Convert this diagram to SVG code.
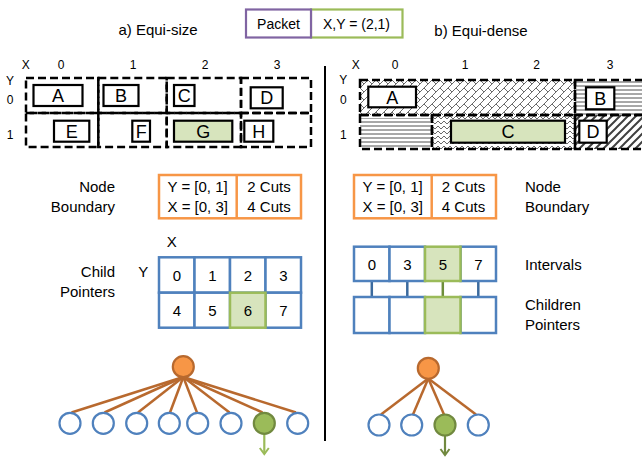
<svg xmlns="http://www.w3.org/2000/svg" width="642" height="457" viewBox="0 0 642 457">
<style>
text{font-family:"Liberation Sans",Arial,sans-serif;fill:#000}
.t15{font-size:15px}
.t14{font-size:14px}
.lab{font-size:12px}
.big{font-size:18px;text-anchor:middle}
.mid{text-anchor:middle}
.end{text-anchor:end}
.dash{fill:none;stroke:#000;stroke-width:2.5;stroke-dasharray:8 4}
.box{fill:#fff;stroke:#000;stroke-width:2.2}
.gbox{fill:#D7E4BD;stroke:#000;stroke-width:2.2}
.ob{fill:#fff;stroke:#F79646;stroke-width:2.5}
.bb{fill:#fff;stroke:#4F81BD;stroke-width:2.5}
.gb{fill:#D7E4BD;stroke:#9BBB59;stroke-width:2.5}
.edge{stroke:#B8692E;stroke-width:2.5;fill:none}
.leaf{fill:#fff;stroke:#4F81BD;stroke-width:2.2}
.root{fill:#F79646;stroke:#B8692E;stroke-width:2.2}
.gleaf{fill:#9BBB59;stroke:#71893F;stroke-width:2.2}
.arr{stroke:#9BBB59;stroke-width:2.2;fill:none}
</style>
<defs>
<pattern id="brick" patternUnits="userSpaceOnUse" width="8" height="8">
<path d="M0,8 L8,0 M-1,1 L1,-1 M7,9 L9,7 M0,0 L4,4" stroke="#6A6A6A" stroke-width="1" fill="none"/>
</pattern>
<pattern id="hl" patternUnits="userSpaceOnUse" width="8" height="4">
<path d="M0,2 L8,2" stroke="#505050" stroke-width="1" fill="none"/>
</pattern>
<pattern id="zz" patternUnits="userSpaceOnUse" width="6" height="5">
<path d="M0,1 L3,4 L6,1" stroke="#6A6A6A" stroke-width="1" fill="none"/>
</pattern>
<pattern id="wd" patternUnits="userSpaceOnUse" width="8" height="8">
<path d="M0,8 L8,0 M-1,1 L1,-1 M7,9 L9,7" stroke="#404040" stroke-width="2" fill="none"/>
</pattern>
<marker id="ah" markerWidth="12" markerHeight="12" refX="9" refY="6" orient="auto" markerUnits="userSpaceOnUse">
<path d="M3,1.5 L9,6 L3,10.5" stroke="context-stroke" stroke-width="2" fill="none"/>
</marker>
<marker id="ahl" markerWidth="12" markerHeight="12" refX="9" refY="6" orient="auto" markerUnits="userSpaceOnUse">
<path d="M3,1.5 L9,6 L3,10.5" stroke="#9BBB59" stroke-width="2" fill="none"/>
</marker>
<marker id="ahr" markerWidth="12" markerHeight="12" refX="9" refY="6" orient="auto" markerUnits="userSpaceOnUse">
<path d="M3,1.5 L9,6 L3,10.5" stroke="#71893F" stroke-width="2" fill="none"/>
</marker>
</defs>

<!-- Titles -->
<text class="t15 mid" x="158" y="35">a) Equi-size</text>
<text class="t15 mid" x="481" y="36">b) Equi-dense</text>

<!-- Packet -->
<g id="packet">
<rect x="311" y="9.5" width="91.5" height="28" fill="#fff" stroke="#9BBB59" stroke-width="2.2"/>
<rect x="246" y="9.5" width="65" height="28" fill="#fff" stroke="#8064A2" stroke-width="2.2"/>
<text class="t14 mid" x="278.5" y="29">Packet</text>
<text class="t14 mid" x="356.5" y="29">X,Y = (2,1)</text>
</g>

<!-- Divider -->
<line x1="325" y1="66" x2="325" y2="441" stroke="#000" stroke-width="2"/>

<!-- Left grid -->
<g id="left-axes">
<text class="lab mid" x="25.7" y="69">X</text>
<text class="lab mid" x="61" y="69">0</text>
<text class="lab mid" x="133" y="69">1</text>
<text class="lab mid" x="205" y="69">2</text>
<text class="lab mid" x="277" y="69">3</text>
<text class="lab mid" x="10" y="85">Y</text>
<text class="lab mid" x="10" y="104">0</text>
<text class="lab mid" x="10" y="139">1</text>
</g>
<g id="left-cells">
<rect class="dash" x="26" y="78" width="72.3" height="35"/>
<rect class="dash" x="98.3" y="78" width="68.4" height="35"/>
<rect class="dash" x="166.7" y="78" width="74.3" height="35"/>
<rect class="dash" x="241" y="78" width="70" height="35"/>
<rect class="dash" x="26" y="113" width="72.3" height="34"/>
<rect class="dash" x="98.3" y="113" width="68.4" height="34"/>
<rect class="dash" x="166.7" y="113" width="74.3" height="34"/>
<rect class="dash" x="241" y="113" width="70" height="34"/>
</g>
<g id="lA"><rect class="box" x="33.5" y="85" width="49" height="21"/><text class="big" x="58" y="102">A</text></g>
<g id="lB"><rect class="box" x="103.5" y="85" width="35" height="21"/><text class="big" x="121" y="102">B</text></g>
<g id="lC"><rect class="box" x="174" y="85" width="20.5" height="21"/><text class="big" x="184.3" y="102">C</text></g>
<g id="lD"><rect class="box" x="250.7" y="87.3" width="32" height="21"/><text class="big" x="266.7" y="104.3">D</text></g>
<g id="lE"><rect class="box" x="54" y="120.7" width="35.3" height="21"/><text class="big" x="71.7" y="137.7">E</text></g>
<g id="lF"><rect class="box" x="132.3" y="120.7" width="17.7" height="21"/><text class="big" x="141.2" y="137.7">F</text></g>
<g id="lG"><rect class="gbox" x="174" y="120.7" width="58.3" height="21"/><text class="big" x="203.2" y="137.7">G</text></g>
<g id="lH"><rect class="box" x="244.3" y="120.7" width="29" height="21"/><text class="big" x="258.8" y="137.7">H</text></g>

<!-- Right grid -->
<g id="right-axes">
<text class="lab mid" x="355.7" y="69">X</text>
<text class="lab mid" x="395" y="69">0</text>
<text class="lab mid" x="465" y="69">1</text>
<text class="lab mid" x="536.7" y="69">2</text>
<text class="lab mid" x="610" y="69">3</text>
<text class="lab mid" x="343.3" y="84">Y</text>
<text class="lab mid" x="343.3" y="104">0</text>
<text class="lab mid" x="343.3" y="139">1</text>
</g>
<g id="right-cells">
<rect x="360" y="80" width="215" height="35" fill="url(#brick)"/>
<rect x="575" y="80" width="70" height="35" fill="url(#hl)"/>
<rect x="360" y="118" width="72" height="30" fill="url(#hl)"/>
<rect x="432" y="115" width="143" height="34" fill="url(#zz)"/>
<rect x="575" y="115" width="70" height="34" fill="url(#wd)"/>
<rect class="dash" x="360" y="80" width="215" height="35"/>
<rect class="dash" x="575" y="80" width="70" height="35"/>
<rect class="dash" x="360" y="115" width="72" height="34"/>
<rect class="dash" x="432" y="115" width="143" height="34"/>
<rect class="dash" x="575" y="115" width="70" height="34"/>
</g>
<g id="rA"><rect class="box" x="368.3" y="86.7" width="47.7" height="20.6"/><text class="big" x="392.2" y="103.5">A</text></g>
<g id="rB"><rect class="box" x="586" y="87.3" width="28.3" height="22"/><text class="big" x="600.2" y="104.8">B</text></g>
<g id="rC"><rect class="gbox" x="451" y="120.7" width="114" height="22"/><text class="big" x="508" y="138.3">C</text></g>
<g id="rD"><rect class="box" x="579.3" y="120.7" width="27.4" height="22"/><text class="big" x="593" y="138.3">D</text></g>

<!-- Node boundary left -->
<g id="nb-left">
<text class="t15 end" x="115" y="192">Node</text>
<text class="t15 end" x="115" y="212">Boundary</text>
<rect class="ob" x="159" y="175" width="142" height="43.3"/>
<line x1="236.7" y1="175" x2="236.7" y2="218.3" stroke="#F79646" stroke-width="2.5"/>
<text class="t15" x="167.5" y="192.3">Y = [0, 1]</text>
<text class="t15" x="167.5" y="212.3">X = [0, 3]</text>
<text class="t15 mid" x="269" y="192.3">2 Cuts</text>
<text class="t15 mid" x="269" y="212.3">4 Cuts</text>
</g>

<!-- Node boundary right -->
<g id="nb-right">
<rect class="ob" x="354" y="175" width="142" height="43.3"/>
<line x1="431.7" y1="175" x2="431.7" y2="218.3" stroke="#F79646" stroke-width="2.5"/>
<text class="t15" x="362.5" y="192.3">Y = [0, 1]</text>
<text class="t15" x="362.5" y="212.3">X = [0, 3]</text>
<text class="t15 mid" x="463.5" y="192.3">2 Cuts</text>
<text class="t15 mid" x="463.5" y="212.3">4 Cuts</text>
<text class="t15" x="525" y="192">Node</text>
<text class="t15" x="525" y="212">Boundary</text>
</g>

<!-- Child pointers left -->
<g id="cp-left">
<text class="t15 end" x="115" y="277">Child</text>
<text class="t15 end" x="115" y="297">Pointers</text>
<text class="t15 mid" x="171.7" y="247">X</text>
<text class="t15 mid" x="143.3" y="277">Y</text>
<rect class="bb" x="159" y="257.3" width="35.5" height="35.4"/>
<rect class="bb" x="194.5" y="257.3" width="35.5" height="35.4"/>
<rect class="bb" x="230" y="257.3" width="35.5" height="35.4"/>
<rect class="bb" x="265.5" y="257.3" width="35.5" height="35.4"/>
<rect class="bb" x="159" y="292.7" width="35.5" height="35"/>
<rect class="bb" x="194.5" y="292.7" width="35.5" height="35"/>
<rect class="bb" x="265.5" y="292.7" width="35.5" height="35"/>
<rect class="gb" x="230" y="292.7" width="35.5" height="35"/>
<text class="t15 mid" x="176.8" y="280.5">0</text>
<text class="t15 mid" x="212.3" y="280.5">1</text>
<text class="t15 mid" x="247.8" y="280.5">2</text>
<text class="t15 mid" x="283.3" y="280.5">3</text>
<text class="t15 mid" x="176.8" y="315.5">4</text>
<text class="t15 mid" x="212.3" y="315.5">5</text>
<text class="t15 mid" x="247.8" y="315.5">6</text>
<text class="t15 mid" x="283.3" y="315.5">7</text>
</g>

<!-- Intervals / children right -->
<g id="connectors-right">
<line x1="371.8" y1="281" x2="371.8" y2="297" stroke="#3B6A9E" stroke-width="2.5"/>
<line x1="407.3" y1="281" x2="407.3" y2="297" stroke="#3B6A9E" stroke-width="2.5"/>
<line x1="442.8" y1="281" x2="442.8" y2="297" stroke="#6E8E3A" stroke-width="2.5"/>
<line x1="478.3" y1="281" x2="478.3" y2="297" stroke="#3B6A9E" stroke-width="2.5"/>
</g>
<g id="intervals">
<rect class="bb" x="354" y="246.7" width="35.5" height="34.3"/>
<rect class="bb" x="389.5" y="246.7" width="35.5" height="34.3"/>
<rect class="bb" x="460.5" y="246.7" width="35.5" height="34.3"/>
<rect class="gb" x="425" y="246.7" width="35.5" height="34.3"/>
<text class="t15 mid" x="371.8" y="270">0</text>
<text class="t15 mid" x="407.3" y="270">3</text>
<text class="t15 mid" x="442.8" y="270">5</text>
<text class="t15 mid" x="478.3" y="270">7</text>
<text class="t15" x="525" y="270">Intervals</text>
</g>
<g id="children">
<rect class="bb" x="354" y="297" width="35.5" height="36"/>
<rect class="bb" x="389.5" y="297" width="35.5" height="36"/>
<rect class="bb" x="460.5" y="297" width="35.5" height="36"/>
<rect class="gb" x="425" y="297" width="35.5" height="36"/>
<text class="t15" x="525" y="310">Children</text>
<text class="t15" x="525" y="329.5">Pointers</text>
</g>

<!-- Left tree -->
<g id="tree-left-edges">
<line class="edge" x1="183.3" y1="377" x2="71.5" y2="412.5"/>
<line class="edge" x1="183.3" y1="377" x2="104.5" y2="412.5"/>
<line class="edge" x1="183.3" y1="377" x2="138" y2="412.5"/>
<line class="edge" x1="183.3" y1="377" x2="170" y2="412.5"/>
<line class="edge" x1="183.3" y1="377" x2="197" y2="412.5"/>
<line class="edge" x1="183.3" y1="377" x2="229.5" y2="412.5"/>
<line class="edge" x1="183.3" y1="377" x2="262.5" y2="412.5"/>
<line class="edge" x1="183.3" y1="377" x2="296" y2="412.5"/>
<line class="arr" x1="264.3" y1="434.5" x2="264.3" y2="454" marker-end="url(#ahl)"/>
</g>
<g id="tree-left-root"><circle class="root" cx="183.3" cy="366.7" r="10.5"/></g>
<g id="tree-left-leaves">
<circle class="leaf" cx="70" cy="423.3" r="10.5"/>
<circle class="leaf" cx="103.3" cy="423.3" r="10.5"/>
<circle class="leaf" cx="136.7" cy="423.3" r="10.5"/>
<circle class="leaf" cx="169.3" cy="423.3" r="10.5"/>
<circle class="leaf" cx="197.7" cy="423.3" r="10.5"/>
<circle class="leaf" cx="231" cy="423.3" r="10.5"/>
<circle class="gleaf" cx="264.3" cy="423.3" r="10.5"/>
<circle class="leaf" cx="297.7" cy="423.3" r="10.5"/>
</g>

<!-- Right tree -->
<g id="tree-right-edges">
<line class="edge" x1="428.3" y1="378.5" x2="381" y2="414.5"/>
<line class="edge" x1="428.3" y1="378.5" x2="413" y2="414.5"/>
<line class="edge" x1="428.3" y1="378.5" x2="444" y2="414.5"/>
<line class="edge" x1="428.3" y1="378.5" x2="476" y2="414.5"/>
<line class="arr" x1="445" y1="436" x2="445" y2="455" marker-end="url(#ahr)" style="stroke:#71893F"/>
</g>
<g id="tree-right-root"><circle class="root" cx="428.3" cy="368.3" r="10.5"/></g>
<g id="tree-right-leaves">
<circle class="leaf" cx="379" cy="425" r="10.5"/>
<circle class="leaf" cx="411.7" cy="425" r="10.5"/>
<circle class="gleaf" cx="445" cy="425" r="10.5"/>
<circle class="leaf" cx="478.3" cy="425" r="10.5"/>
</g>
</svg>
